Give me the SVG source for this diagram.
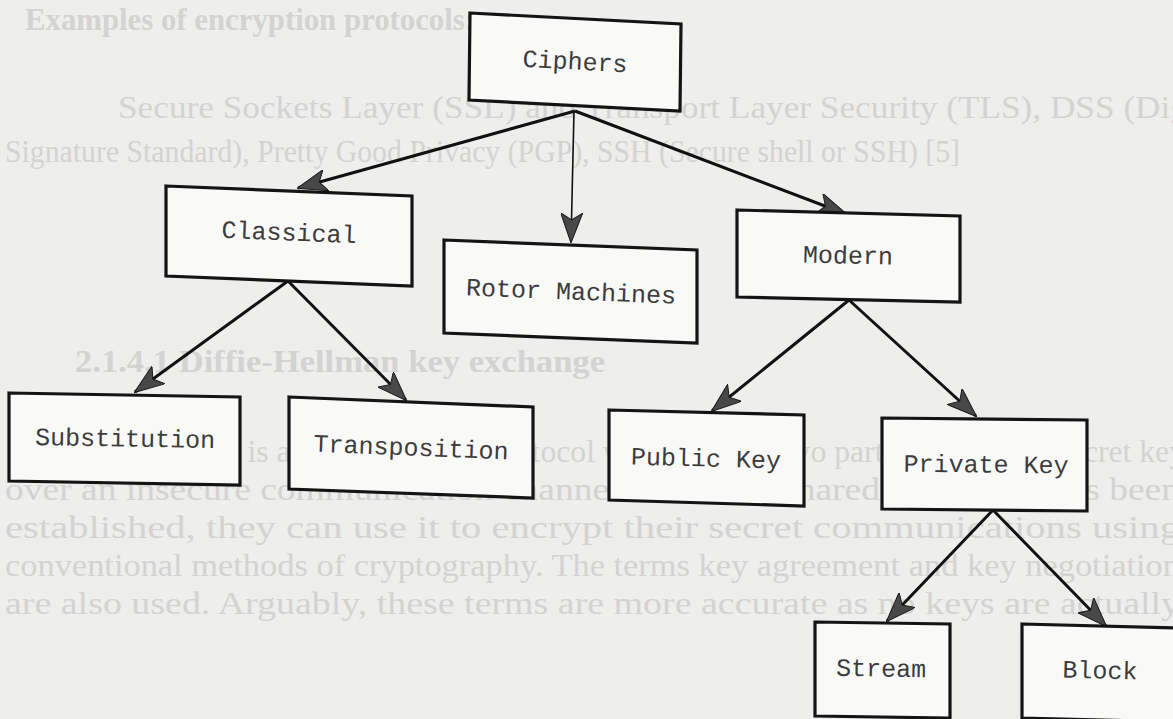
<svg xmlns="http://www.w3.org/2000/svg" width="1173" height="719" viewBox="0 0 1173 719">
<style>
.bg-text{font-family:"Liberation Serif","Times New Roman",serif;font-size:31px;fill:#d3d3d1}
.bg-bold{font-weight:bold}
.box{fill:#f9f9f8;stroke:#141414;stroke-width:3.2;stroke-linejoin:miter}
.label{font-family:"Liberation Mono","Courier New",monospace;font-size:25px;fill:#3c3c3c;text-anchor:middle;dominant-baseline:central}
.conn{stroke:#111;stroke-width:3;fill:none}
.thin{stroke-width:1.6}
</style>
<defs>
<marker id="ah" viewBox="0 0 30 22" refX="29" refY="11" markerWidth="30" markerHeight="22" markerUnits="userSpaceOnUse" orient="auto">
<path d="M0,0 L30,11 L0,22 L7,11 z" fill="#484848" stroke="#1a1a1a" stroke-width="1"/>
</marker>
</defs>
<rect width="1173" height="719" fill="#eeeeec"/>
<g id="background-text">
<text class="bg-text bg-bold" x="25" y="30" textLength="450" lengthAdjust="spacingAndGlyphs">Examples of encryption protocols:</text>
<text class="bg-text" x="118" y="118" textLength="1070" lengthAdjust="spacingAndGlyphs">Secure Sockets Layer (SSL) and Transport Layer Security (TLS), DSS (Dig</text>
<text class="bg-text" x="5" y="162" textLength="955" lengthAdjust="spacingAndGlyphs">Signature Standard), Pretty Good Privacy (PGP), SSH (Secure shell or SSH) [5]</text>
<text class="bg-text bg-bold" x="75" y="372" textLength="530" lengthAdjust="spacingAndGlyphs">2.1.4.1 Diffie-Hellman key exchange</text>
<text class="bg-text" x="45" y="462" textLength="1140" lengthAdjust="spacingAndGlyphs">Diffie-Hellman is a Cryptographic protocol which allows two parties to agree a secret key</text>
<text class="bg-text" x="5" y="500" textLength="1175" lengthAdjust="spacingAndGlyphs">over an insecure communication channel. Once the shared secret key has been</text>
<text class="bg-text" x="5" y="538" textLength="1175" lengthAdjust="spacingAndGlyphs">established, they can use it to encrypt their secret communications using</text>
<text class="bg-text" x="5" y="576" textLength="1175" lengthAdjust="spacingAndGlyphs">conventional methods of cryptography. The terms key agreement and key negotiation</text>
<text class="bg-text" x="5" y="614" textLength="1175" lengthAdjust="spacingAndGlyphs">are also used. Arguably, these terms are more accurate as no keys are actually</text>
</g>
<g id="connectors">
<line class="conn" x1="575" y1="111" x2="298" y2="188" marker-end="url(#ah)"/>
<line class="conn thin" x1="574" y1="111" x2="571" y2="242" marker-end="url(#ah)"/>
<line class="conn" x1="575" y1="111" x2="846" y2="214" marker-end="url(#ah)"/>
<line class="conn" x1="288" y1="281" x2="135" y2="392" marker-end="url(#ah)"/>
<line class="conn" x1="288" y1="281" x2="406" y2="400" marker-end="url(#ah)"/>
<line class="conn" x1="849" y1="300" x2="712" y2="411" marker-end="url(#ah)"/>
<line class="conn" x1="849" y1="300" x2="976" y2="416" marker-end="url(#ah)"/>
<line class="conn" x1="993" y1="510" x2="887" y2="621" marker-end="url(#ah)"/>
<line class="conn" x1="993" y1="510" x2="1106" y2="626" marker-end="url(#ah)"/>
</g>
<g id="ciphers">
<polygon class="box" points="470,13 681,24 680,111 469,100"/>
<text class="label" x="575" y="63" transform="rotate(3 575 63)">Ciphers</text>
</g>
<g id="classical">
<polygon class="box" points="166,186 412,196 412,286 166,276"/>
<text class="label" x="289" y="234" transform="rotate(2.3 289 234)">Classical</text>
</g>
<g id="rotor-machines">
<polygon class="box" points="444,240 697,250 697,343 444,333"/>
<text class="label" x="571" y="293" transform="rotate(2.3 571 293)">Rotor Machines</text>
</g>
<g id="modern">
<polygon class="box" points="737,210 960,216 960,302 737,297"/>
<text class="label" x="848" y="257" transform="rotate(1.4 848 257)">Modern</text>
</g>
<g id="substitution">
<polygon class="box" points="9,393 240,397 240,485 9,481"/>
<text class="label" x="125" y="440" transform="rotate(1 125 440)">Substitution</text>
</g>
<g id="transposition">
<polygon class="box" points="289,397 533,407 533,498 289,489"/>
<text class="label" x="411" y="449" transform="rotate(2.3 411 449)">Transposition</text>
</g>
<g id="public-key">
<polygon class="box" points="609,410 804,415 804,506 609,500"/>
<text class="label" x="706" y="460" transform="rotate(1.5 706 460)">Public Key</text>
</g>
<g id="private-key">
<polygon class="box" points="882,418 1087,420 1087,511 882,509"/>
<text class="label" x="986" y="466" transform="rotate(0.6 986 466)">Private Key</text>
</g>
<g id="stream">
<polygon class="box" points="815,622 950,624 950,718 815,716"/>
<text class="label" x="881" y="670" transform="rotate(1 881 670)">Stream</text>
</g>
<g id="block">
<polygon class="box" points="1022,624 1180,628 1180,722 1022,718"/>
<text class="label" x="1100" y="672" transform="rotate(1.5 1100 672)">Block</text>
</g>
</svg>
